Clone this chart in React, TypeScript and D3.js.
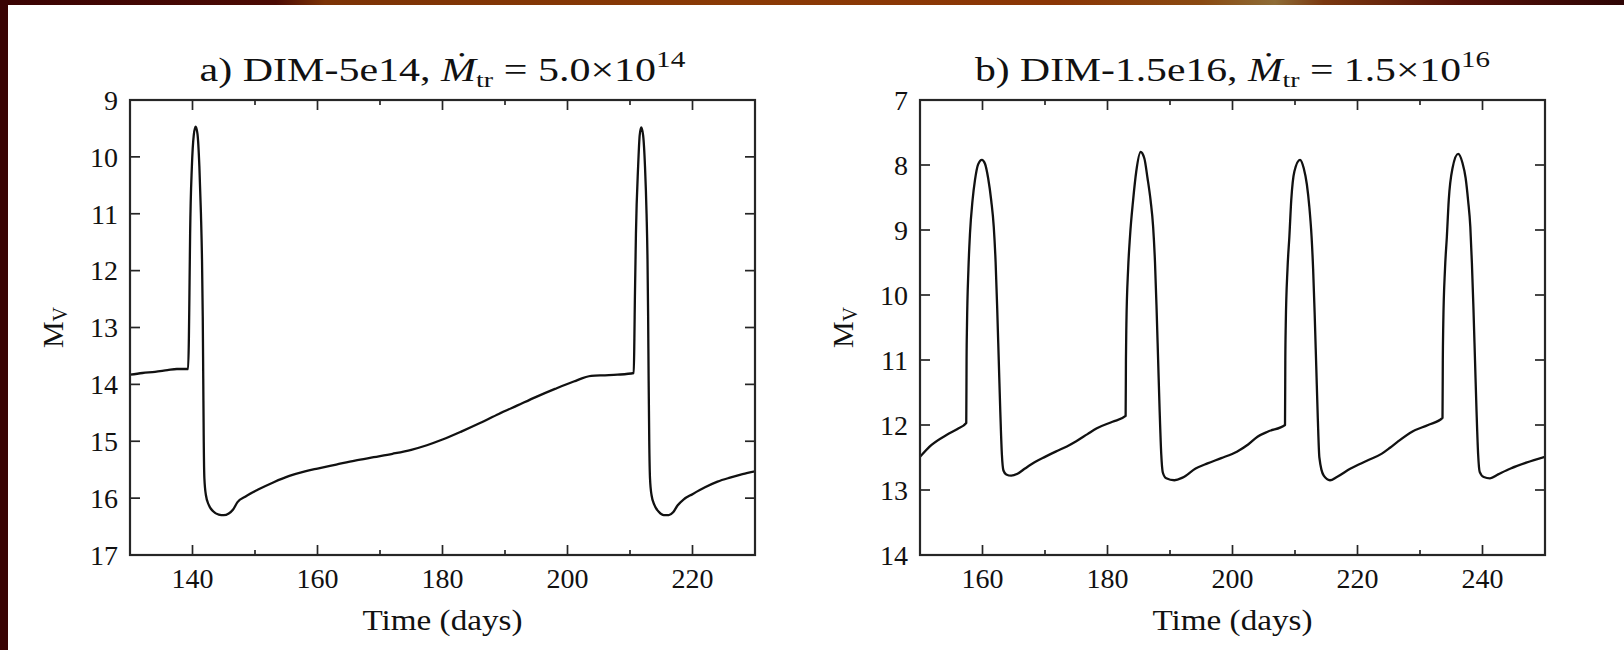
import React, { useLayoutEffect, useRef, useState } from 'react';
import * as d3 from 'd3';

// ---------- Panel a data: DIM-5e14 ----------
const panelATime = [
  130, 132, 134, 136, 137.5, 139.3, 139.42, 139.5, 139.62, 139.9, 140.2, 140.5, 140.8, 141.1, 141.35, 141.52,
  141.64, 141.72, 141.8, 141.9, 142.15, 142.6, 143.3, 144.2, 145.0, 145.8, 146.5, 147.2, 148.5, 150.5, 153,
  155.5, 158, 160, 163, 166, 169, 172, 175, 177.5, 180, 183, 186, 189, 192, 195, 198, 201, 203.8, 206, 208,
  210.6, 210.7, 210.78, 210.95, 211.3, 211.55, 211.8, 212.1, 212.4, 212.65, 212.8, 212.9, 212.98, 213.08, 213.2,
  213.45, 213.9, 214.6, 215.4, 216.2, 216.9, 217.6, 218.6, 220, 222, 224, 226, 228, 230,
];
const panelAMag = [
  13.83, 13.8, 13.78, 13.75, 13.73, 13.73, 13.2, 12.5, 11.35, 10.17, 9.62, 9.47, 9.6, 10.17, 11.0, 11.8,
  12.8, 13.9, 15.0, 15.65, 15.95, 16.12, 16.23, 16.29, 16.3, 16.27, 16.2, 16.07, 15.97, 15.85, 15.72,
  15.61, 15.53, 15.48, 15.41, 15.34, 15.28, 15.22, 15.15, 15.07, 14.97, 14.83, 14.68, 14.52, 14.37, 14.22, 14.08, 13.95, 13.85, 13.84, 13.83,
  13.8, 13.2, 12.5, 11.35, 10.17, 9.62, 9.48, 9.62, 10.17, 11.0, 11.8,
  12.8, 13.9, 15.0, 15.65,
  15.95, 16.12, 16.24, 16.3, 16.3, 16.25, 16.13, 16.02, 15.93, 15.81, 15.71, 15.64, 15.58, 15.53,
];
const panelAXTicks = [140, 160, 180, 200, 220];
const panelAXMinor = [150, 170, 190, 210];
const panelAYTicks = [9, 10, 11, 12, 13, 14, 15, 16, 17];

// ---------- Panel b data: DIM-1.5e16 ----------
const panelBTime = [
  150, 151.8, 154.3, 156, 157.4, 157.45, 157.52, 157.75, 158.0, 158.4, 158.8, 159.3, 159.9, 160.4, 160.9, 161.4,
  161.8, 162.1, 162.35, 162.6, 162.85, 163.1, 163.35, 163.8, 164.6, 165.6, 166.8, 168.4, 170, 171.7, 173.5, 175, 176.8,
  178.3, 180.8, 182.9, 182.95, 183.02, 183.3, 183.6, 184.1, 184.6, 185.3, 185.9, 186.4, 186.9,
  187.3, 187.6, 187.85, 188.1, 188.35, 188.6, 188.85, 189.4, 190.7, 192, 194.1, 196, 198.2, 200.7, 202.5, 204, 205.7, 208.4, 208.45, 208.52,
  208.8, 209.1, 209.4, 209.9, 210.8, 211.4, 211.9, 212.3, 212.65, 212.9, 213.15, 213.4, 213.65, 213.9, 214.6, 215.6, 216.7,
  218.9, 221.5, 223.9, 225.2, 226.4, 228.8, 231.3, 233.6, 233.65, 233.72, 234.0, 234.3, 234.6, 235.2, 236.1, 236.8,
  237.3, 237.7, 238.05, 238.3, 238.55, 238.8, 239.05, 239.3, 239.55, 240.2, 241.2, 242.5, 244.5, 247, 250,
];
const panelBMag = [
  12.49, 12.31, 12.15, 12.06, 11.97, 11.0, 10.46, 9.6, 9.05, 8.55, 8.23, 7.99, 7.92, 7.98, 8.2, 8.55,
  8.95, 9.5, 10.2, 11.0, 11.8, 12.45, 12.7, 12.76, 12.78, 12.75, 12.67, 12.57, 12.49, 12.41, 12.33, 12.25, 12.14,
  12.05, 11.95, 11.86, 11.0, 10.46, 9.6, 9.1, 8.54, 8.1, 7.8, 7.9, 8.2, 8.55,
  8.95, 9.5, 10.2, 11.0, 11.8, 12.45, 12.73, 12.82, 12.85, 12.81, 12.67, 12.59, 12.51, 12.41, 12.3, 12.18, 12.1, 12.0, 11.0, 10.46,
  9.6, 9.1, 8.54, 8.1, 7.92, 8.05, 8.3, 8.65, 9.1, 9.6, 10.3, 11.1, 11.9, 12.5, 12.78, 12.85, 12.8,
  12.67, 12.55, 12.44, 12.35, 12.26, 12.1, 12.0, 11.89, 11.0, 10.46, 9.6, 9.1, 8.54, 8.05, 7.83, 7.97,
  8.2, 8.55, 8.95, 9.5, 10.2, 11.0, 11.8, 12.45, 12.72, 12.8, 12.82, 12.76, 12.67, 12.58, 12.49,
];
const panelBXTicks = [160, 180, 200, 220, 240];
const panelBXMinor = [170, 190, 210, 230];
const panelBYTicks = [7, 8, 9, 10, 11, 12, 13, 14];

const FONT = 'Liberation Serif';
const INK = '#111';
const AXIS = '#262626';

function FitText({ x, y, target, children, anchor = 'middle', fontSize }: any) {
  const ref = useRef<SVGTextElement>(null);
  const [s, setS] = useState(1);
  useLayoutEffect(() => {
    const measure = () => {
      if (ref.current) {
        const w = ref.current.getBBox().width;
        if (w > 0) setS(target / w);
      }
    };
    measure();
    if ((document as any).fonts) (document as any).fonts.ready.then(measure);
  }, [target]);
  return (
    <g transform={`translate(${x},${y}) scale(${s},1)`}>
      <text ref={ref} textAnchor={anchor} fontFamily={FONT} fontSize={fontSize} fill={INK}>
        {children}
      </text>
    </g>
  );
}

function Panel(props: any) {
  const { left, top, width, height, xDomain, yDomain, xTicks, xMinor, yTicks, times, mags, label, coef, exp, titleWidth, id } = props;
  const x = d3.scaleLinear().domain(xDomain).range([left, left + width]);
  const y = d3.scaleLinear().domain(yDomain).range([top, top + height]);
  const line = d3
    .line<number>()
    .x((_, i) => x(times[i]))
    .y((d) => y(d))
    .curve(d3.curveMonotoneX);
  const bottom = top + height;
  const right = left + width;
  const major = 10;
  const minor = 5;
  const cx = left + width / 2;
  return (
    <g>
      <defs>
        <clipPath id={`clip-${id}`}>
          <rect x={left} y={top} width={width} height={height} />
        </clipPath>
      </defs>
      <path d={line(mags) || ''} fill="none" stroke={INK} strokeWidth={2.3} strokeLinejoin="round" clipPath={`url(#clip-${id})`} />
      <rect x={left} y={top} width={width} height={height} fill="none" stroke={AXIS} strokeWidth={2.2} />
      {xTicks.map((t: number) => (
        <g key={`xt${t}`}>
          <line x1={x(t)} x2={x(t)} y1={bottom} y2={bottom - major} stroke={AXIS} strokeWidth={1.7} />
          <line x1={x(t)} x2={x(t)} y1={top} y2={top + major} stroke={AXIS} strokeWidth={1.7} />
          <text x={x(t)} y={588} textAnchor="middle" fontFamily={FONT} fontSize={28} fill={INK}>
            {t}
          </text>
        </g>
      ))}
      {xMinor.map((t: number) => (
        <g key={`xm${t}`}>
          <line x1={x(t)} x2={x(t)} y1={bottom} y2={bottom - minor} stroke={AXIS} strokeWidth={1.7} />
          <line x1={x(t)} x2={x(t)} y1={top} y2={top + minor} stroke={AXIS} strokeWidth={1.7} />
        </g>
      ))}
      {yTicks.map((v: number) => (
        <g key={`yt${v}`}>
          <line x1={left} x2={left + major} y1={y(v)} y2={y(v)} stroke={AXIS} strokeWidth={1.7} />
          <line x1={right} x2={right - major} y1={y(v)} y2={y(v)} stroke={AXIS} strokeWidth={1.7} />
          <text x={left - 12} y={y(v)} dy="0.35em" textAnchor="end" fontFamily={FONT} fontSize={28} fill={INK}>
            {v}
          </text>
        </g>
      ))}
      <FitText x={cx} y={81} target={titleWidth} fontSize={33}>
        <tspan>{label} </tspan>
        <tspan fontStyle="italic">{'\u1E40'}</tspan>
        <tspan fontSize={22} dy={6}>tr</tspan>
        <tspan dy={-6}>{` = ${coef}\u00D710`}</tspan>
        <tspan fontSize={23} dy={-14}>{exp}</tspan>
      </FitText>
      <FitText x={cx} y={630} target={160} fontSize={30}>
        Time (days)
      </FitText>
      <text transform={`translate(${left - 67},${(top + bottom) / 2}) rotate(-90)`} textAnchor="middle" fontFamily={FONT} fontSize={30} fill={INK}>
        M<tspan fontSize={20} dy={4}>V</tspan>
      </text>
    </g>
  );
}

export default function App() {
  return (
    <svg width={1624} height={650} style={{ position: 'absolute', left: 0, top: 0, display: 'block', background: '#fff' }}>
      <defs>
        <linearGradient id="topband" x1="0" x2="1" y1="0" y2="0">
          <stop offset="0" stopColor="#3a0303" />
          <stop offset="0.17" stopColor="#4c0b04" />
          <stop offset="0.2" stopColor="#7c3306" />
          <stop offset="0.45" stopColor="#8a3a06" />
          <stop offset="0.65" stopColor="#8b3606" />
          <stop offset="0.74" stopColor="#8a4a12" />
          <stop offset="0.785" stopColor="#8e6c36" />
          <stop offset="0.815" stopColor="#7a3810" />
          <stop offset="0.9" stopColor="#551108" />
          <stop offset="1" stopColor="#2e0505" />
        </linearGradient>
      </defs>
      <rect x={0} y={0} width={1624} height={650} fill="#fff" />
      <rect x={0} y={0} width={1624} height={5} fill="url(#topband)" />
      <rect x={0} y={0} width={8} height={650} fill="#3a0404" />
      <Panel
        id="a"
        left={130}
        top={100}
        width={625}
        height={455}
        xDomain={[130, 230]}
        yDomain={[9, 17]}
        xTicks={panelAXTicks}
        xMinor={panelAXMinor}
        yTicks={panelAYTicks}
        times={panelATime}
        mags={panelAMag}
        label="a) DIM-5e14,"
        coef="5.0"
        exp="14"
        titleWidth={486}
      />
      <Panel
        id="b"
        left={920}
        top={100}
        width={625}
        height={455}
        xDomain={[150, 250]}
        yDomain={[7, 14]}
        xTicks={panelBXTicks}
        xMinor={panelBXMinor}
        yTicks={panelBYTicks}
        times={panelBTime}
        mags={panelBMag}
        label="b) DIM-1.5e16,"
        coef="1.5"
        exp="16"
        titleWidth={515}
      />
    </svg>
  );
}
